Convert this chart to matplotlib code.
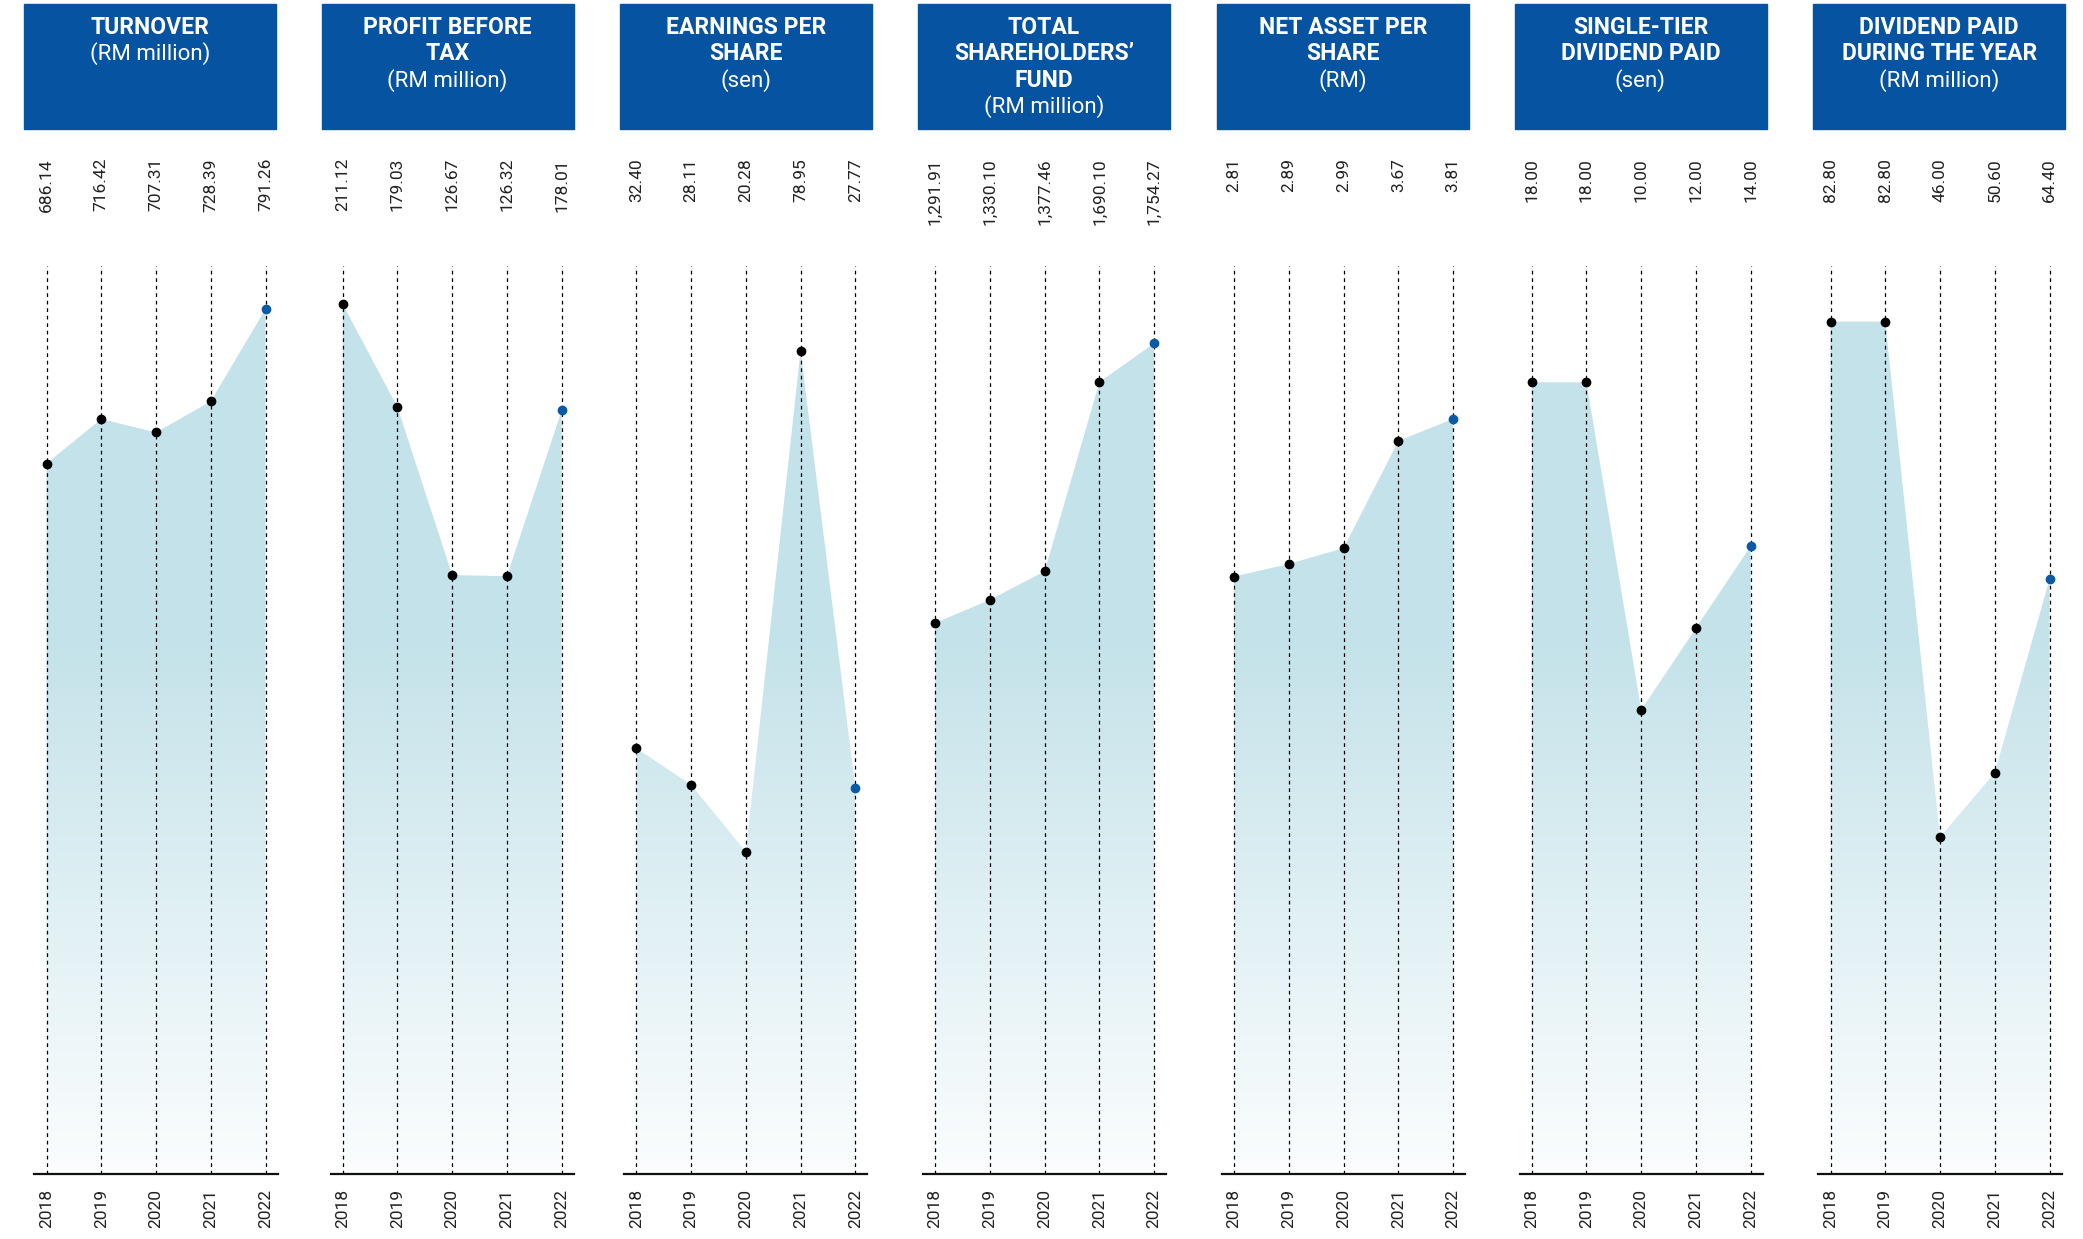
"""Five-year financial highlights: seven small area panels with blue headers."""

import matplotlib

matplotlib.use("Agg")
import matplotlib.pyplot as plt
import matplotlib.transforms as mtransforms
import numpy as np
from matplotlib.colors import LinearSegmentedColormap
from matplotlib.patches import Polygon, Rectangle

plt.rcParams["font.family"] = ["Roboto", "DejaVu Sans"]

years = ["2018", "2019", "2020", "2021", "2022"]

turnover = [686.14, 716.42, 707.31, 728.39, 791.26]
profit_before_tax = [211.12, 179.03, 126.67, 126.32, 178.01]
earnings_per_share = [32.40, 28.11, 20.28, 78.95, 27.77]
shareholders_fund = [1291.91, 1330.10, 1377.46, 1690.10, 1754.27]
net_asset_per_share = [2.81, 2.89, 2.99, 3.67, 3.81]
single_tier_dividend = [18.00, 18.00, 10.00, 12.00, 14.00]
dividend_paid = [82.80, 82.80, 46.00, 50.60, 64.40]

titles = [
    ["TURNOVER"],
    ["PROFIT BEFORE", "TAX"],
    ["EARNINGS PER", "SHARE"],
    ["TOTAL", "SHAREHOLDERS\u2019", "FUND"],
    ["NET ASSET PER", "SHARE"],
    ["SINGLE-TIER", "DIVIDEND PAID"],
    ["DIVIDEND PAID", "DURING THE YEAR"],
]
units = ["(RM million)", "(RM million)", "(sen)", "(RM million)",
         "(RM)", "(sen)", "(RM million)"]

series = [turnover, profit_before_tax, earnings_per_share, shareholders_fund,
          net_asset_per_share, single_tier_dividend, dividend_paid]

# each panel has its own vertical scale
ylims = [(203, 820.5), (-60, 223), (-17.5, 88.9), (381, 1882),
         (-0.98, 4.78), (-1.33, 20.84), (21.96, 86.77)]

HEADER = "#0553a1"
FILL = "#c3e2e9"
LAST = "#0b5aa6"
TEXT = "#222222"

W, H = 2083, 1239
box_left = [24, 321.5, 620.4, 918, 1217, 1514.5, 1813.3]
box_w = 252
first_line = [46.5, 342.7, 636.3, 935.2, 1234.1, 1531.7, 1830.5]
step = 54.75
x0, x1 = -0.22, 4.22
ax_top, ax_bot = 266, 1174

fig = plt.figure(figsize=(W / 100, H / 100), dpi=100)
blend = LinearSegmentedColormap.from_list("fade", ["#fbfdfe", FILL])

for i, vals in enumerate(series):
    left = first_line[i] + x0 * step
    width = (x1 - x0) * step
    ax = fig.add_axes([left / W, 1 - ax_bot / H, width / W, (ax_bot - ax_top) / H])
    lo, hi = ylims[i]
    xs = np.arange(len(years))

    # gradient area under the series
    grad = np.clip(np.linspace(0, 1, 300) / 0.6, 0, 1).reshape(-1, 1)
    im = ax.imshow(grad, cmap=blend, origin="lower", aspect="auto",
                   extent=(x0, x1, lo, hi), zorder=1, interpolation="bilinear")
    verts = [(xs[0], lo)] + list(zip(xs, vals)) + [(xs[-1], lo)]
    poly = Polygon(verts, closed=True, facecolor="none", edgecolor="none")
    ax.add_patch(poly)
    im.set_clip_path(poly)

    ax.vlines(xs, lo, hi, colors="black", linestyles=(0, (3, 3)), linewidth=0.9, zorder=2)
    ax.plot(xs[:-1], vals[:-1], "o", color="black", ms=6, zorder=3, linestyle="none")
    ax.plot(xs[-1:], vals[-1:], "o", color=LAST, ms=6, zorder=3, linestyle="none")

    ax.set_xlim(x0, x1)
    ax.set_ylim(lo, hi)
    for side in ("top", "left", "right"):
        ax.spines[side].set_visible(False)
    ax.spines["bottom"].set_linewidth(1.6)
    ax.spines["bottom"].set_color("#111111")
    ax.set_yticks([])
    ax.set_xticks(xs, years, rotation=90, fontsize=12.5, color=TEXT)
    ax.tick_params(axis="x", length=0, pad=11)

    trans = mtransforms.blended_transform_factory(ax.transData, fig.transFigure)
    for x, v in zip(xs, vals):
        ax.text(x, 1 - 158 / H, f"{v:,.2f}", transform=trans, rotation=90,
                ha="center", va="top", fontsize=12.5, color=TEXT)

    # header box
    fig.add_artist(Rectangle((box_left[i] / W, 1 - 129 / H), box_w / W, 125 / H,
                             transform=fig.transFigure, color=HEADER, zorder=0))
    cx = (box_left[i] + box_w / 2) / W
    lines = titles[i]
    for k, line in enumerate(lines):
        fig.text(cx, 1 - (27 + 26.6 * k) / H, line, ha="center", va="center",
                 fontsize=16.5, fontweight="bold", color="white")
    fig.text(cx, 1 - (27 + 26.6 * len(lines)) / H, units[i], ha="center",
             va="center", fontsize=16, color="white")

fig.savefig("out.png", dpi=100, facecolor="white")
